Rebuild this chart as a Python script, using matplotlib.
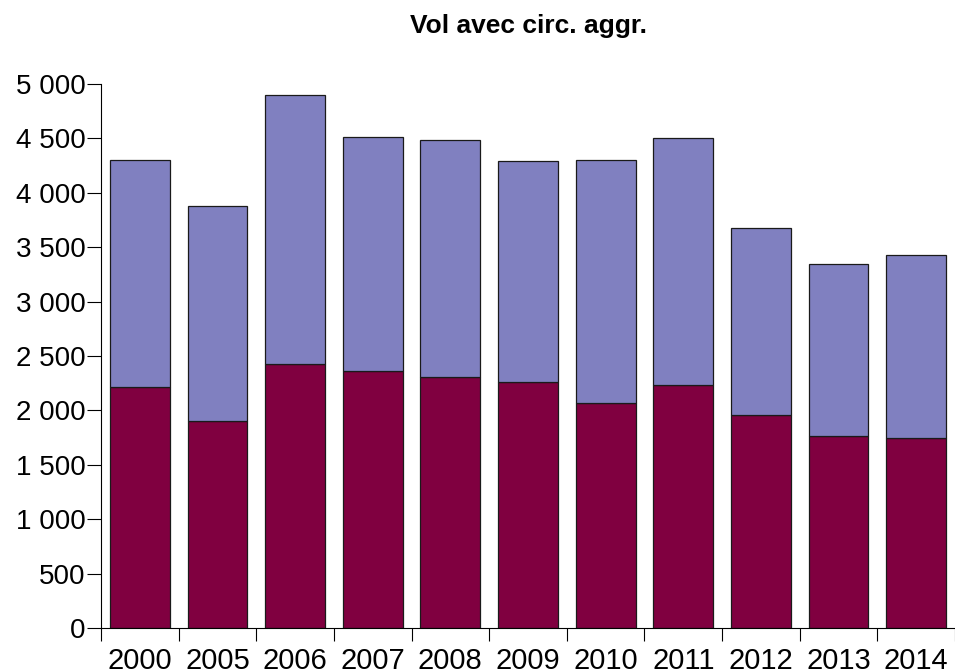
import numpy as np
import matplotlib
matplotlib.use("Agg")
import matplotlib.pyplot as plt
from matplotlib.ticker import FuncFormatter, FixedLocator

plt.rcParams['font.family'] = ['Liberation Sans', 'DejaVu Sans']

# data
years = ["2000", "2005", "2006", "2007", "2008", "2009",
         "2010", "2011", "2012", "2013", "2014"]
bottom_vals = [2215, 1903, 2426, 2362, 2307, 2261, 2071, 2236, 1955, 1768, 1746]
total_vals = [4301, 3879, 4896, 4513, 4482, 4292, 4304, 4501, 3676, 3346, 3428]
top_vals = [t - b for t, b in zip(total_vals, bottom_vals)]

fig = plt.figure(figsize=(9.55, 6.7), dpi=100)
ax = fig.add_axes([101 / 955, 42 / 670, 854 / 955, 544 / 670])

x = np.arange(len(years))
ax.bar(x, bottom_vals, width=0.77, color="#800040",
       edgecolor="#1a1a1a", linewidth=0.9)
ax.bar(x, top_vals, width=0.77, bottom=bottom_vals, color="#8080C0",
       edgecolor="#1a1a1a", linewidth=0.9)

ax.set_xlim(-0.5, len(years) - 0.5)
ax.set_ylim(0, 5000)
ax.set_yticks(np.arange(0, 5001, 500))
ax.yaxis.set_major_formatter(FuncFormatter(lambda v, p: "{:,}".format(int(v)).replace(",", " ")))

ax.set_xticks(x)
ax.set_xticklabels(years)
ax.xaxis.set_minor_locator(FixedLocator(np.arange(-0.5, len(years) - 0.4, 1.0)))

ax.tick_params(axis="x", which="major", length=0, pad=14, labelsize=21)
ax.tick_params(axis="x", which="minor", length=9.5, width=0.8, direction="out")
ax.tick_params(axis="y", which="major", length=10, width=0.8, pad=1, labelsize=20)

for s in ["top", "right"]:
    ax.spines[s].set_visible(False)
for s in ["left", "bottom"]:
    ax.spines[s].set_linewidth(0.8)
ax.spines["left"].set_bounds(0, 5000)

fig.text(0.553, 1 - 33 / 670, "Vol avec circ. aggr.", ha="center", va="baseline",
         fontsize=19, fontweight="bold")

fig.savefig("out.png", dpi=100)
